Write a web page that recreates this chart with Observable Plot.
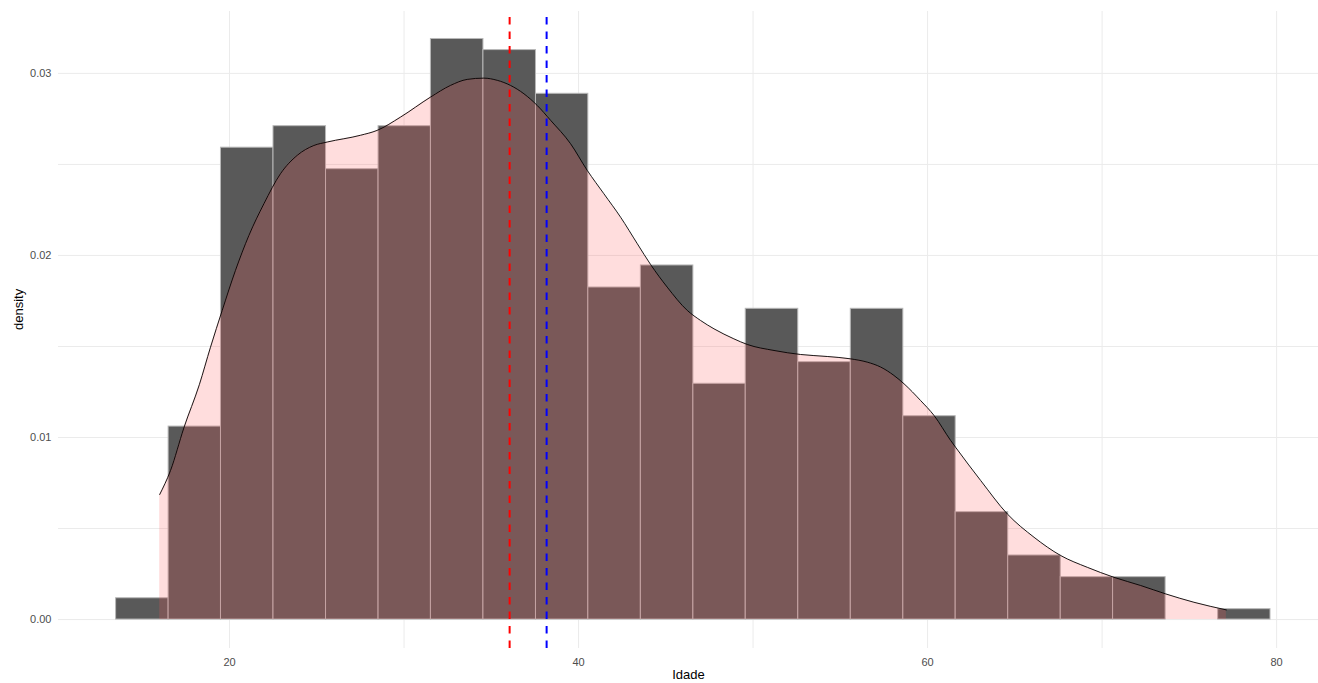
<!DOCTYPE html>
<html>
<head>
<meta charset="utf-8">
<script src="https://cdn.jsdelivr.net/npm/d3@7"></script>
<script src="https://cdn.jsdelivr.net/npm/@observablehq/plot@0.6"></script>
<style>
  html, body { margin: 0; padding: 0; background: #ffffff; }
  #chart svg { display: block; }
</style>
</head>
<body>
<div id="chart"></div>
<script>
// Histogram bin edges (Idade) and the density of each bin
const binEdges = [13.50, 16.51, 19.51, 22.52, 25.53, 28.54, 31.54, 34.55, 37.56, 40.56, 43.57,
                  46.58, 49.58, 52.59, 55.60, 58.61, 61.61, 64.62, 67.63, 70.63, 73.64, 76.65, 79.65];
const binDensity = [0.00117, 0.0106, 0.02592, 0.0271, 0.02474, 0.0271, 0.03189, 0.03128, 0.02888,
                    0.01824, 0.01945, 0.01295, 0.01707, 0.01414, 0.01707, 0.01117, 0.0059, 0.00352,
                    0.00233, 0.00233, 0, 0.00057];

// Kernel density estimate of Idade
const kdeIdade = [16.0, 16.62, 17.38, 18.27, 18.91, 19.58, 20.34, 21.11, 21.97, 22.92, 23.88, 24.83,
                  25.6, 27.5, 28.46, 29.8, 31.52, 32.66, 33.62, 34.57, 35.34, 36.1, 36.87, 37.63,
                  38.4, 39.54, 40.5, 41.45, 42.41, 43.37, 44.13, 45.08, 46.23, 46.99, 47.76, 48.9,
                  49.67, 51.2, 52.72, 54.25, 55.59, 56.54, 57.31, 58.07, 58.65, 59.6, 60.37, 61.32,
                  61.6, 63.04, 64.57, 66.1, 67.62, 69.15, 70.68, 72.21, 73.64, 75.26, 77.12];
const kdeDensity = [0.00687, 0.00819, 0.01052, 0.0129, 0.01496, 0.01698, 0.01918, 0.0211, 0.02284,
                    0.02449, 0.0255, 0.02604, 0.02623, 0.0266, 0.02687, 0.0276, 0.0287, 0.02934,
                    0.02967, 0.02974, 0.02962, 0.02934, 0.02888, 0.02824, 0.02742, 0.02614, 0.02467,
                    0.02339, 0.0221, 0.02064, 0.0195, 0.01826, 0.01698, 0.01643, 0.01597, 0.01542,
                    0.01511, 0.01478, 0.01456, 0.01445, 0.01432, 0.01414, 0.01387, 0.01341, 0.01295,
                    0.01203, 0.01121, 0.00984, 0.00947, 0.00764, 0.0058, 0.00452, 0.00352, 0.00287,
                    0.00232, 0.00187, 0.00141, 0.00095, 0.00053];

// Reference lines: median (red) and mean (blue)
const mediana = 36.05;
const media = 38.17;

// Axis ticks
const xTicks = [20, 40, 60, 80];
const xMinor = [30, 50, 70];
const yTicks = [0, 0.01, 0.02, 0.03];
const yMinor = [0.005, 0.015, 0.025];

const bins = binDensity
  .map((d, i) => ({x1: binEdges[i], x2: binEdges[i + 1], density: d}))
  .filter(b => b.density > 0);
const kde = kdeIdade.map((x, i) => ({idade: x, density: kdeDensity[i]}));

const yDomain = [-0.00159, 0.0334];
const grid = {stroke: "#ebebeb", strokeOpacity: 1, strokeWidth: 1};

const chart = Plot.plot({
  width: 1318,
  height: 683,
  marginTop: 11,
  marginBottom: 35,
  marginLeft: 58,
  marginRight: 0,
  style: {fontFamily: "Arial, 'Liberation Sans', sans-serif", background: "#ffffff"},
  x: {domain: [10.2, 82.4]},
  y: {domain: yDomain},
  marks: [
    Plot.gridX(xMinor, grid),
    Plot.gridX(xTicks, grid),
    Plot.gridY(yMinor, grid),
    Plot.gridY(yTicks, grid),
    Plot.rectY(bins, {x1: "x1", x2: "x2", y1: 0, y2: "density",
                      fill: "#595959", stroke: "#b8b8b8", strokeWidth: 1}),
    Plot.areaY(kde, {x: "idade", y: "density", fill: "#ff5555", fillOpacity: 0.2, curve: "monotone-x"}),
    Plot.lineY(kde, {x: "idade", y: "density", stroke: "#000000", strokeWidth: 0.9, curve: "monotone-x"}),
    Plot.ruleX([mediana], {x: d => d, y1: yDomain[0], y2: yDomain[1],
                           stroke: "#ff0000", strokeWidth: 2, strokeDasharray: "7.5,7"}),
    Plot.ruleX([media], {x: d => d, y1: yDomain[0], y2: yDomain[1],
                         stroke: "#0000ff", strokeWidth: 2, strokeDasharray: "7.5,7"}),
    Plot.axisX({ticks: xTicks, tickSize: 0, tickPadding: 10, label: null,
                fontSize: 11, color: "#4d4d4d"}),
    Plot.axisY({ticks: yTicks, tickSize: 0, tickPadding: 7, label: null,
                tickFormat: d3.format(".2f"), fontSize: 11, color: "#4d4d4d"}),
    Plot.text(["Idade"], {frameAnchor: "bottom", dy: 26, lineAnchor: "middle",
                          fontSize: 13, fill: "#000000"}),
    Plot.text(["density"], {frameAnchor: "left", dx: -40, rotate: -90,
                            fontSize: 13, fill: "#000000"})
  ]
});

document.getElementById("chart").appendChild(chart);
</script>
</body>
</html>
